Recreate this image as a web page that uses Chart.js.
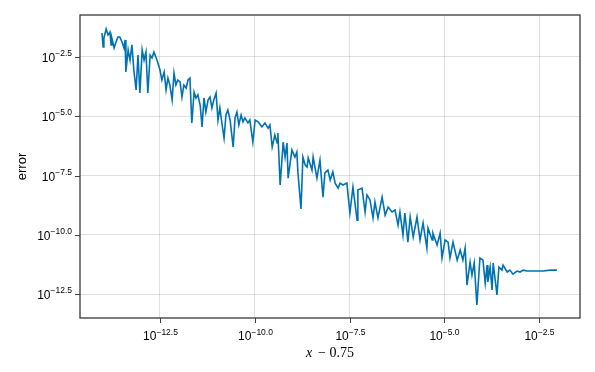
<!DOCTYPE html>
<html>
<head>
<meta charset="utf-8">
<script src="https://cdn.jsdelivr.net/npm/chart.js@4/dist/chart.umd.min.js"></script>
<style>
  body { margin: 0; background: #fff; }
</style>
</head>
<body>
<canvas id="errChart" width="595" height="372"></canvas>
<script>
// log10 of (x - 0.75)
var xExp = [
  -14.03, -14.00, -13.98, -13.92, -13.87, -13.82, -13.79, -13.77, -13.71, -13.66,
  -13.61, -13.56, -13.50, -13.45, -13.42, -13.40, -13.34, -13.29, -13.24, -13.19,
  -13.13, -13.08, -13.03, -12.97, -12.92, -12.87, -12.82, -12.76, -12.71, -12.66,
  -12.58, -12.50, -12.45, -12.39, -12.34, -12.29, -12.24, -12.18, -12.13, -12.08,
  -12.03, -11.97, -11.92, -11.87, -11.81, -11.76, -11.71, -11.66, -11.60, -11.55,
  -11.50, -11.44, -11.39, -11.34, -11.29, -11.23, -11.18, -11.13, -11.08, -11.02,
  -10.97, -10.92, -10.86, -10.81, -10.76, -10.71, -10.65, -10.57, -10.52, -10.47,
  -10.42, -10.36, -10.31, -10.26, -10.18, -10.13, -10.05, -9.99, -9.91, -9.81,
  -9.73, -9.65, -9.60, -9.54, -9.47, -9.41, -9.39, -9.33, -9.25, -9.20,
  -9.15, -9.12, -9.02, -8.94, -8.89, -8.86, -8.78, -8.73, -8.67, -8.62,
  -8.59, -8.49, -8.46, -8.36, -8.28, -8.20, -8.15, -8.07, -8.01, -7.94,
  -7.88, -7.80, -7.75, -7.67, -7.57, -7.49, -7.41, -7.30, -7.28, -7.17,
  -7.09, -7.04, -6.96, -6.88, -6.83, -6.75, -6.64, -6.56, -6.48, -6.38,
  -6.30, -6.22, -6.17, -6.09, -6.04, -5.96, -5.90, -5.82, -5.72, -5.64,
  -5.56, -5.46, -5.43, -5.32, -5.30, -5.19, -5.11, -5.06, -4.98, -4.90,
  -4.85, -4.77, -4.66, -4.58, -4.51, -4.45, -4.40, -4.32, -4.27, -4.21,
  -4.14, -4.06, -3.98, -3.92, -3.87, -3.85, -3.79, -3.74, -3.71, -3.61,
  -3.56, -3.48, -3.45, -3.34, -3.27, -3.19, -3.08, -3.00, -2.92, -2.82,
  -2.74, -2.55, -2.39, -2.21, -2.03
];
// log10 of error
var errExp = [
  -1.49, -2.08, -1.70, -1.32, -1.57, -1.45, -1.99, -1.70, -2.12, -1.87,
  -1.66, -1.66, -1.87, -2.12, -1.78, -3.13, -2.20, -2.63, -1.99, -3.05,
  -3.89, -2.42, -4.02, -2.20, -2.63, -2.29, -4.02, -2.42, -2.54, -2.29,
  -2.63, -3.05, -3.47, -3.13, -3.89, -3.39, -3.68, -4.31, -3.18, -3.68,
  -3.47, -3.55, -4.19, -3.68, -3.81, -3.47, -3.39, -5.28, -3.98, -4.23,
  -4.10, -4.53, -5.45, -4.23, -4.82, -4.31, -4.19, -4.65, -4.31, -4.02,
  -5.16, -4.65, -5.37, -5.92, -4.95, -4.74, -5.16, -6.30, -5.07, -4.82,
  -5.37, -4.95, -5.24, -5.07, -5.28, -5.16, -6.09, -5.16, -5.24, -5.45,
  -5.28, -5.50, -5.37, -6.30, -5.79, -6.13, -5.71, -7.90, -6.09, -6.72,
  -6.13, -7.61, -6.42, -6.72, -6.51, -7.39, -8.91, -6.72, -7.06, -7.14,
  -6.76, -7.27, -6.72, -7.61, -6.85, -8.41, -7.39, -7.27, -7.69, -7.35,
  -7.82, -8.03, -7.82, -7.90, -7.82, -9.08, -7.99, -9.38, -8.11, -8.03,
  -9.04, -8.32, -8.53, -9.29, -8.62, -9.29, -8.41, -9.17, -8.83, -9.04,
  -8.96, -9.59, -9.04, -10.01, -9.08, -10.31, -9.25, -10.09, -9.25, -10.22,
  -9.50, -10.56, -9.72, -10.22, -9.93, -10.43, -9.93, -10.98, -10.22, -10.31,
  -10.98, -10.31, -11.07, -10.64, -11.07, -10.56, -12.12, -11.15, -11.70, -11.19,
  -12.96, -10.98, -11.07, -12.04, -11.28, -11.99, -11.36, -12.33, -11.19, -12.54,
  -11.36, -11.49, -11.28, -11.57, -11.49, -11.66, -11.53, -11.57, -11.49, -11.53,
  -11.53, -11.53, -11.53, -11.49, -11.49
];
var xTickExp = [-12.5, -10.0, -7.5, -5.0, -2.5];
var yTickExp = [-2.5, -5.0, -7.5, -10.0, -12.5];
var xRange = [-14.61, -1.42];
var yRange = [-13.51, -0.73];

var points = xExp.map(function (e, i) { return { x: Math.pow(10, e), y: Math.pow(10, errExp[i]) }; });

function expLabel(ctx, v, x, y, align) {
  var base = '10', ex = (v < 0 ? '\u2212' : '') + Math.abs(v).toFixed(1);
  ctx.font = '12px "Liberation Sans", Arial, sans-serif';
  var wb = ctx.measureText(base).width;
  ctx.font = '8.5px "Liberation Sans", Arial, sans-serif';
  var we = ctx.measureText(ex).width;
  var left = align === 'right' ? x - wb - we : x - (wb + we) / 2;
  ctx.textAlign = 'left';
  ctx.textBaseline = 'alphabetic';
  ctx.fillStyle = '#000';
  ctx.font = '12px "Liberation Sans", Arial, sans-serif';
  ctx.fillText(base, left, y);
  ctx.font = '8.5px "Liberation Sans", Arial, sans-serif';
  ctx.fillText(ex, left + wb, y - 5.5);
}

var decor = {
  id: 'decor',
  afterDraw: function (chart) {
    var ctx = chart.ctx, a = chart.chartArea;
    var sx = chart.scales.x, sy = chart.scales.y;
    ctx.save();
    // ticks
    ctx.strokeStyle = '#444';
    ctx.lineWidth = 1;
    xTickExp.forEach(function (e) {
      var px = Math.round(sx.getPixelForValue(Math.pow(10, e))) + 0.5;
      ctx.beginPath(); ctx.moveTo(px, a.bottom); ctx.lineTo(px, a.bottom + 5); ctx.stroke();
      expLabel(ctx, e, px, a.bottom + 22, 'center');
    });
    yTickExp.forEach(function (e) {
      var py = Math.round(sy.getPixelForValue(Math.pow(10, e))) + 0.5;
      ctx.beginPath(); ctx.moveTo(a.left - 5, py); ctx.lineTo(a.left, py); ctx.stroke();
      expLabel(ctx, e, a.left - 8, py + 4, 'right');
    });
    // frame
    ctx.strokeStyle = '#3a3a3a';
    ctx.lineWidth = 1.3;
    ctx.strokeRect(a.left, a.top, a.right - a.left, a.bottom - a.top);
    // axis titles
    ctx.fillStyle = '#000';
    ctx.textBaseline = 'middle';
    ctx.font = '13px "Liberation Sans", Arial, sans-serif';
    ctx.save();
    ctx.translate(22, (a.top + a.bottom) / 2);
    ctx.rotate(-Math.PI / 2);
    ctx.textAlign = 'center';
    ctx.fillText('error', 0, 0);
    ctx.restore();
    var cx = (a.left + a.right) / 2, ty = a.bottom + 35;
    ctx.font = 'italic 14px "DejaVu Serif", "Liberation Serif", serif';
    var w1 = ctx.measureText('x').width;
    ctx.font = '14px "Liberation Serif", serif';
    var rest = '\u2212 0.75';
    var w2 = ctx.measureText(rest).width;
    var lx = cx - (w1 + 4 + w2) / 2;
    ctx.textAlign = 'left';
    ctx.font = 'italic 14px "Liberation Serif", serif';
    ctx.fillText('x', lx, ty);
    ctx.font = '14px "Liberation Serif", serif';
    ctx.fillText(rest, lx + w1 + 4, ty);
    ctx.restore();
  }
};

var gridStyle = { color: 'rgba(0,0,0,0.12)', lineWidth: 1, drawTicks: false };

new Chart(document.getElementById('errChart').getContext('2d'), {
  type: 'line',
  data: {
    datasets: [{
      data: points,
      borderColor: 'rgb(0,114,178)',
      borderWidth: 1.6,
      pointRadius: 0,
      tension: 0,
      fill: false
    }]
  },
  options: {
    responsive: false,
    animation: false,
    layout: { padding: { top: 15, right: 15, left: 0, bottom: 0 } },
    plugins: { legend: { display: false }, tooltip: { enabled: false } },
    scales: {
      x: {
        type: 'logarithmic',
        min: Math.pow(10, xRange[0]),
        max: Math.pow(10, xRange[1]),
        grid: gridStyle,
        border: { display: false },
        ticks: { display: false },
        afterBuildTicks: function (s) { s.ticks = xTickExp.map(function (e) { return { value: Math.pow(10, e) }; }); },
        afterFit: function (s) { s.height = 54; }
      },
      y: {
        type: 'logarithmic',
        min: Math.pow(10, yRange[0]),
        max: Math.pow(10, yRange[1]),
        grid: gridStyle,
        border: { display: false },
        ticks: { display: false },
        afterBuildTicks: function (s) { s.ticks = yTickExp.map(function (e) { return { value: Math.pow(10, e) }; }); },
        afterFit: function (s) { s.width = 80; }
      }
    }
  },
  plugins: [decor]
});
</script>
</body>
</html>
